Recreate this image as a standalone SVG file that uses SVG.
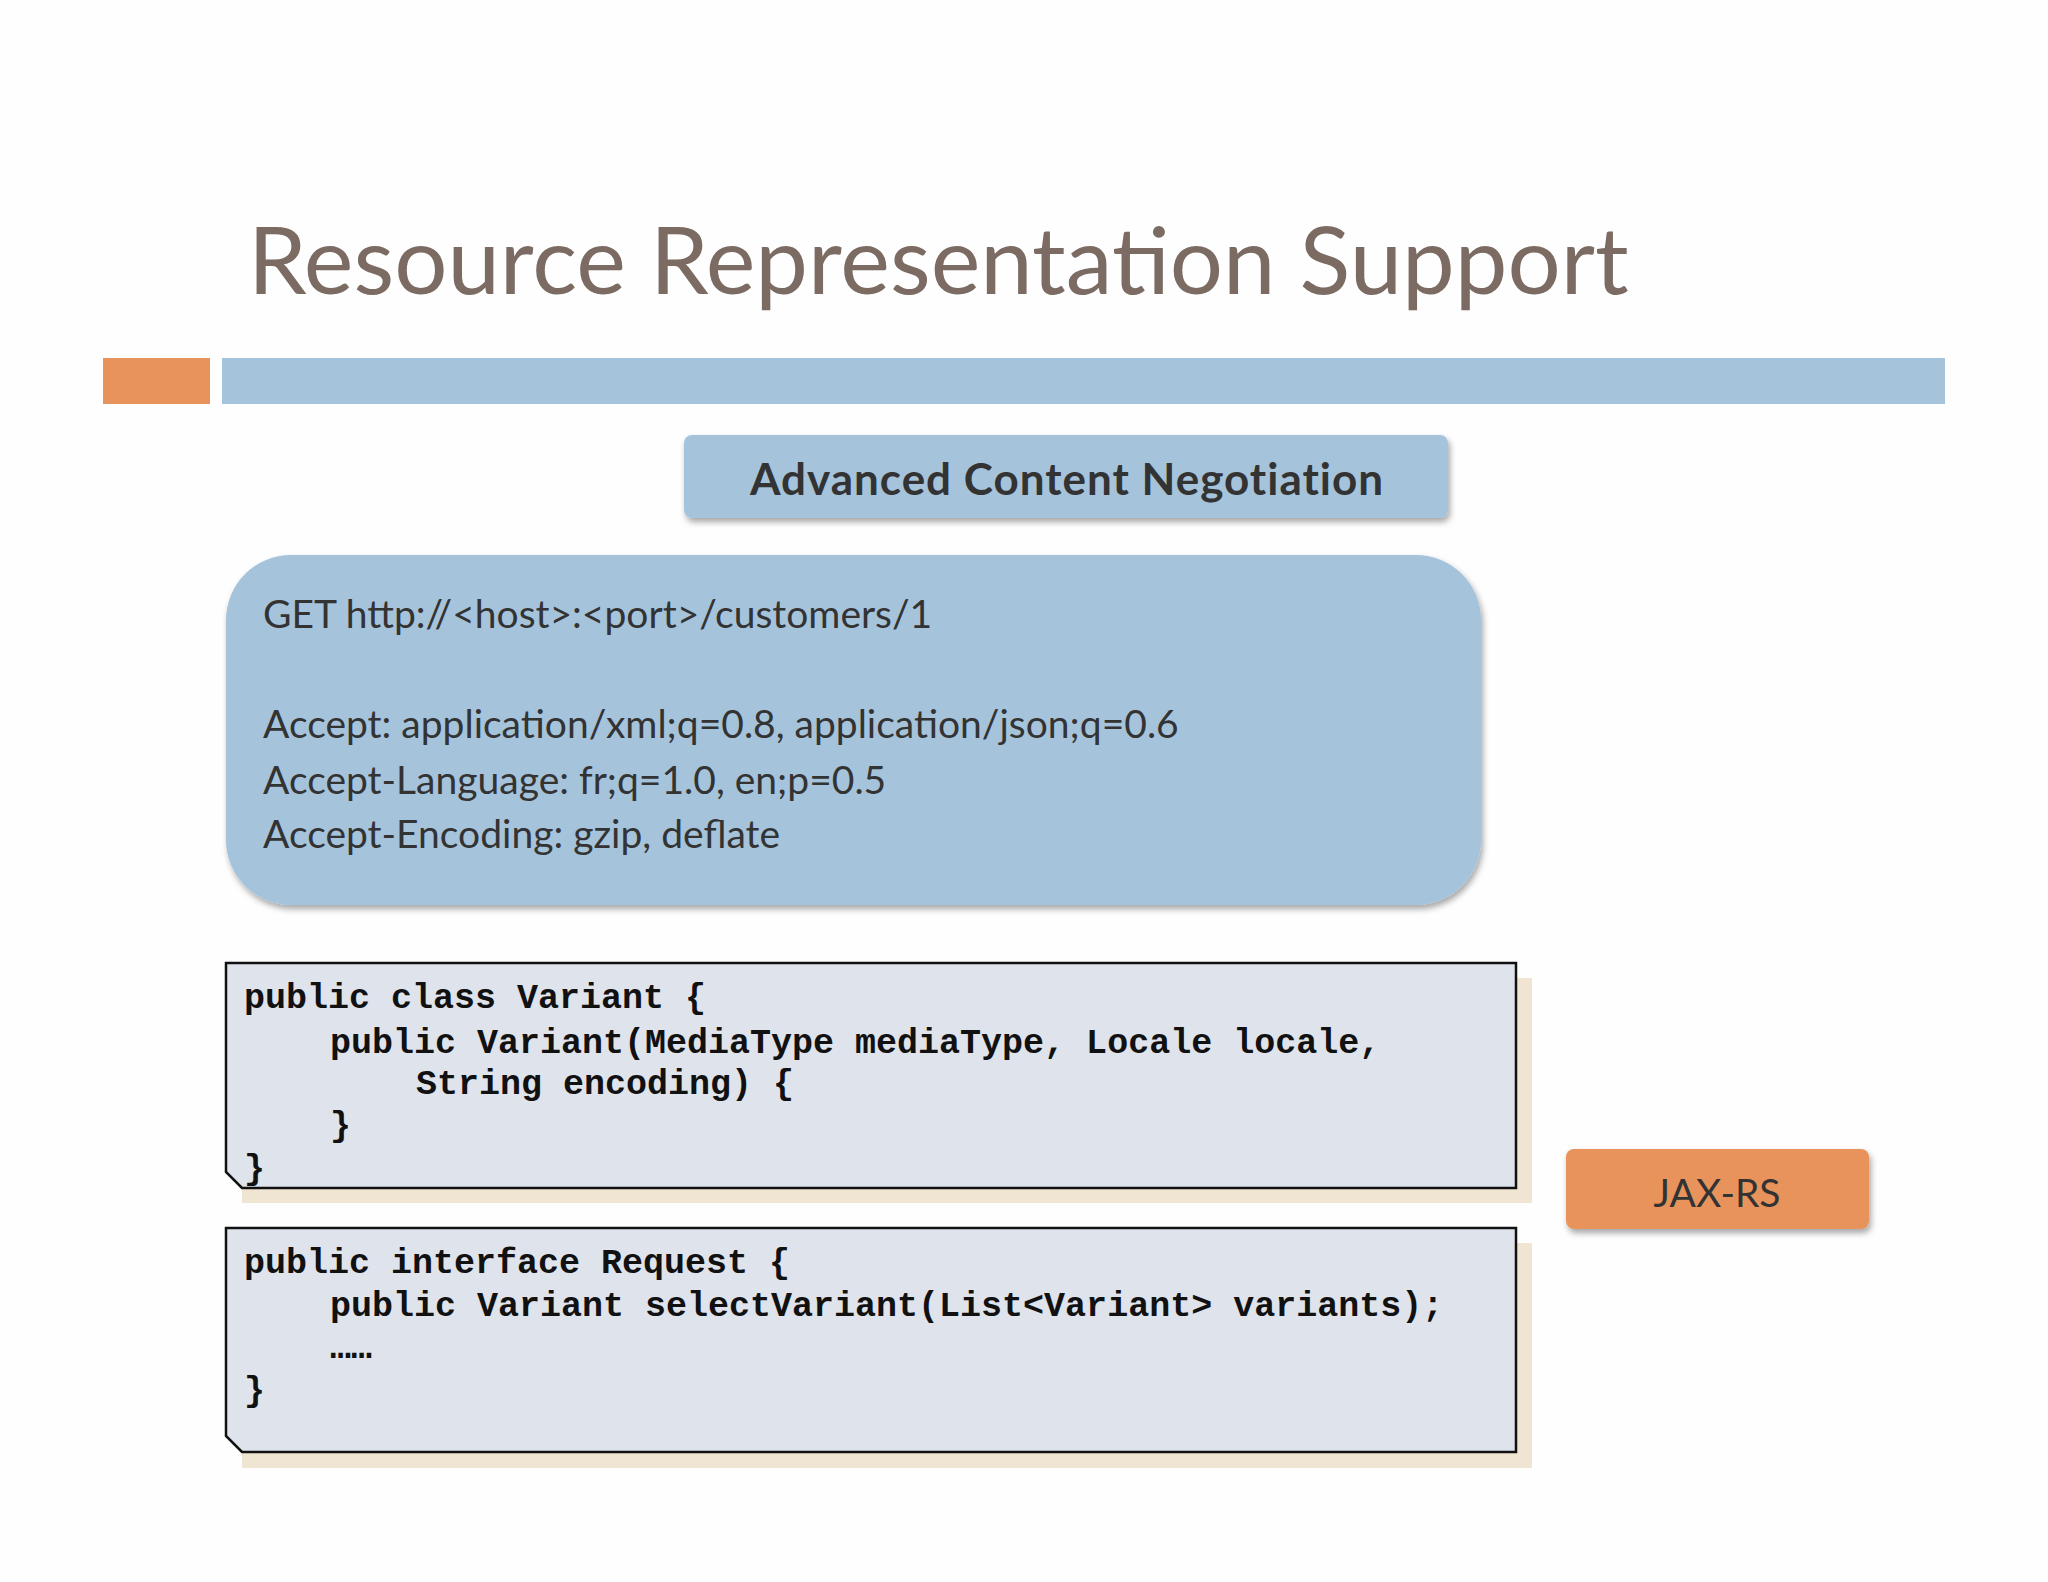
<svg xmlns="http://www.w3.org/2000/svg" width="2048" height="1582" viewBox="0 0 2048 1582">
<defs>
<style>
.s{font-family:"Lato","Liberation Sans",sans-serif}
.m{font-family:"Liberation Mono","DejaVu Sans Mono",monospace;font-weight:bold;font-size:35px;fill:#111}
.code{fill:#dfe3eb;stroke:#111;stroke-width:2.5}
.sh{fill:#f0e4d2}
</style>
<filter id="ds" x="-5%" y="-10%" width="110%" height="130%"><feDropShadow dx="2" dy="4" stdDeviation="3" flood-color="#000" flood-opacity="0.35"/></filter>
</defs>
<rect width="2048" height="1582" fill="#fefefe"/>
<text class="s" x="248" y="294" font-size="94" fill="#7b6b62">Resource Representation Support</text>
<rect x="103" y="358" width="107" height="46" fill="#e8935b"/>
<rect x="222" y="358" width="1723" height="46" fill="#a6c3dc"/>
<g id="header"><rect x="684" y="435" width="764" height="83" rx="8" fill="#a6c3dc" filter="url(#ds)"/>
<text class="s" x="1067" y="495" font-size="44" font-weight="bold" fill="#333" text-anchor="middle" letter-spacing="1">Advanced Content Negotiation</text></g>
<g id="request"><rect x="226" y="555" width="1255" height="350" rx="65" fill="#a6c3dc" filter="url(#ds)"/>
<g class="s" font-size="39" fill="#333">
<text x="263" y="628">GET http://&lt;host&gt;:&lt;port&gt;/customers/1</text>
<text x="263" y="738">Accept: application/xml;q=0.8, application/json;q=0.6</text>
<text x="263" y="794">Accept-Language: fr;q=1.0, en;p=0.5</text>
<text x="263" y="848">Accept-Encoding: gzip, deflate</text></g></g>
<g id="variant"><rect class="sh" x="242" y="978" width="1290" height="225"/>
<path class="code" d="M226 963H1516V1188H242L226 1172Z"/>
<text class="m" x="244" y="1008">public class Variant {</text>
<text class="m" x="330" y="1053">public Variant(MediaType mediaType, Locale locale,</text>
<text class="m" x="416" y="1094">String encoding) {</text>
<text class="m" x="330" y="1136">}</text>
<text class="m" x="244" y="1179">}</text></g>
<g id="requestif"><rect class="sh" x="242" y="1243" width="1290" height="225"/>
<path class="code" d="M226 1228H1516V1452H242L226 1436Z"/>
<text class="m" x="244" y="1273">public interface Request {</text>
<text class="m" x="330" y="1316">public Variant selectVariant(List&lt;Variant&gt; variants);</text>
<text class="m" x="330" y="1358" font-size="22" font-weight="normal">……</text>
<text class="m" x="244" y="1401">}</text></g>
<g id="jaxrs"><rect x="1566" y="1149" width="303" height="80" rx="8" fill="#e8935b" filter="url(#ds)"/>
<text class="s" x="1717" y="1207" font-size="39" fill="#333" text-anchor="middle">JAX-RS</text></g>
</svg>
